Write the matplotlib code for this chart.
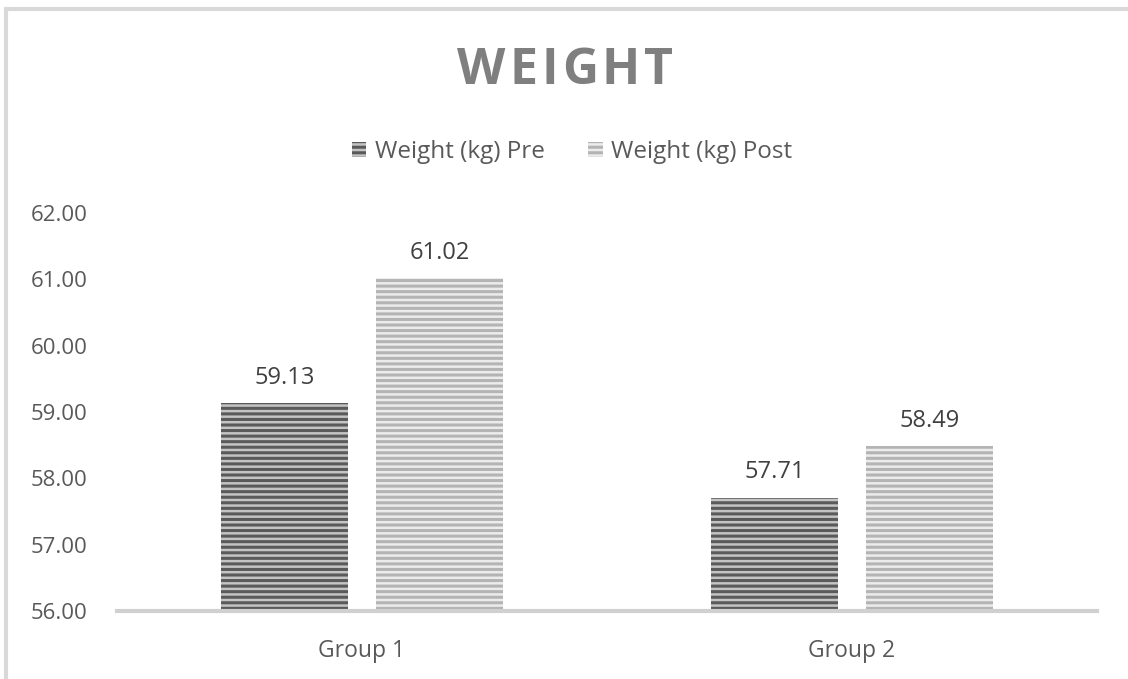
import matplotlib.pyplot as plt
import matplotlib.patches as mpatches
import numpy as np

plt.rcParams['font.family'] = ['Open Sans', 'DejaVu Sans']
plt.rcParams['hatch.linewidth'] = 2.2

groups = ['Group 1', 'Group 2']
pre = [59.13, 57.71]
post = [61.02, 58.49]
series = ['Weight (kg) Pre', 'Weight (kg) Post']

txt = '#595959'
fig = plt.figure(figsize=(11.28, 6.79), dpi=100)
# outer chart border (only left and top are visible)
fig.add_artist(mpatches.Rectangle((6/1128, -0.1), 1.2, 1.1 - 9/679, transform=fig.transFigure,
                                  fill=False, edgecolor='#d9d9d9', linewidth=3))

ax = fig.add_axes([117/1128, 1-611/679, (1097-117)/1128, (611-213)/679])
x = np.arange(len(groups))
w = 0.26
gap = 0.057
b1 = ax.bar(x - w/2 - gap/2, pre, w, facecolor='#c4c4c4', edgecolor='#5a5a5a',
            hatch='---', linewidth=0, label=series[0])
b2 = ax.bar(x + w/2 + gap/2, post, w, facecolor='#ececec', edgecolor='#b4b4b4',
            hatch='---', linewidth=0, label=series[1])
ax.set_ylim(56, 62)
ax.set_xlim(-0.5, 1.5)
yt = np.arange(56, 62.1, 1)
ax.set_yticks(yt)
ax.set_yticklabels(['%.2f' % v for v in yt])
ax.set_xticks(x)
ax.set_xticklabels(groups)
ax.tick_params(axis='both', length=0, colors=txt)
ax.tick_params(axis='y', pad=21, labelsize=16)
ax.tick_params(axis='x', pad=20, labelsize=16.5)
for s in ['top', 'right', 'left']:
    ax.spines[s].set_visible(False)
ax.spines['bottom'].set_color('#d0d0d0')
ax.spines['bottom'].set_linewidth(3)
ax.spines['bottom'].set_zorder(5)

for bars in (b1, b2):
    for r in bars:
        h = r.get_height()
        ax.text(r.get_x() + r.get_width()/2, h + 0.2, '%.2f' % h, ha='center', va='bottom',
                fontsize=17, color='#404040')

# title with a little letter spacing, like the original
title = 'WEIGHT'
spacing = 4  # extra px between letters
renderer = fig.canvas.get_renderer()
letters = [fig.text(0, 1-71/679, ch, ha='left', va='center', fontsize=36,
                    fontweight='bold', color='#7f7f7f') for ch in title]
widths = [t.get_window_extent(renderer).width for t in letters]
total = sum(widths) + spacing * (len(title) - 1)
xpos = 565 - total / 2
for t, wd in zip(letters, widths):
    t.set_x(xpos / 1128)
    xpos += wd + spacing

leg = fig.legend(handles=[b1, b2], labels=series, loc='center', bbox_to_anchor=(572/1128, 1-152/679),
                 ncol=2, frameon=False, fontsize=17.5, handlelength=0.6, handleheight=0.6,
                 handletextpad=0.35, columnspacing=1.8)
for t in leg.get_texts():
    t.set_color(txt)

fig.savefig('out.png', dpi=100)
